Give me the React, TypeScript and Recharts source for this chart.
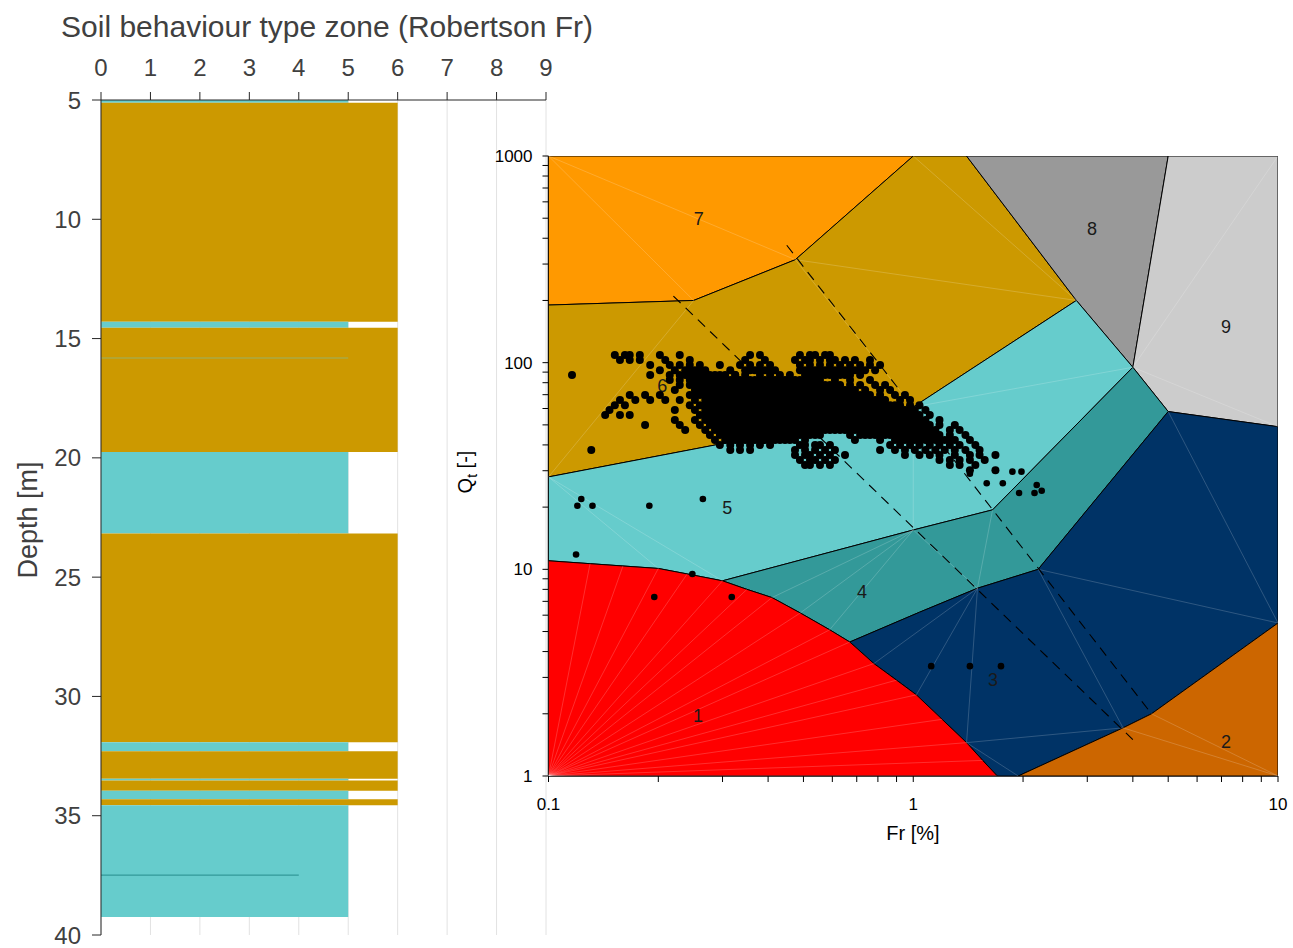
import React from 'react';
import {
  ScatterChart,
  Scatter,
  XAxis,
  YAxis,
  CartesianGrid,
  ReferenceArea,
} from 'recharts';

const FONT = '"Liberation Sans", Arial, Helvetica, sans-serif';

const zoneColors: Record<number, string> = {
  1: '#FF0000',
  2: '#CC6600',
  3: '#003366',
  4: '#339999',
  5: '#66CCCC',
  6: '#CC9900',
  7: '#FF9900',
  8: '#999999',
  9: '#CCCCCC',
};

// CPT log: [top depth, bottom depth, SBT zone]; thin seams are listed after the layer they cut
const layers: [number, number, number][] = [
  [5.0, 5.12, 5],
  [5.12, 14.3, 6],
  [14.3, 14.55, 5],
  [14.55, 19.75, 6],
  [19.75, 23.17, 5],
  [23.17, 31.92, 6],
  [31.92, 32.3, 5],
  [32.3, 33.45, 6],
  [33.45, 33.52, 5],
  [33.52, 33.95, 6],
  [33.95, 34.31, 5],
  [34.31, 34.56, 6],
  [34.56, 39.25, 5],
  [15.8, 15.82, 5],
  [37.46, 37.52, 4],
];

const zoneTicks = [0, 1, 2, 3, 4, 5, 6, 7, 8, 9];
const depthTicks = [5, 10, 15, 20, 25, 30, 35, 40];

// Robertson (1990) Fr chart zone outlines as [Fr %, Qt]
const zone1: [number, number][] = [
  [0.1, 1], [0.1, 11], [0.13, 10.65], [0.16, 10.38], [0.2, 10.1], [0.24, 9.5], [0.3, 8.8],
  [0.35, 8.0], [0.41, 7.3], [0.49, 6.15], [0.59, 5.1], [0.67, 4.45], [0.78, 3.5], [0.9, 2.91],
  [1.02, 2.47], [1.2, 1.88], [1.4, 1.45], [1.55, 1.19], [1.7, 1],
];
const zone2: [number, number][] = [[1.94, 1], [3.76, 1.71], [4.5, 2], [10, 5.5], [10, 1]];
const zone3: [number, number][] = [
  [0.67, 4.45], [1.04, 6.2], [1.5, 8.1], [2.2, 10], [5, 58], [10, 49], [10, 5.5], [4.5, 2],
  [3.76, 1.71], [1.94, 1], [1.7, 1], [1.55, 1.19], [1.4, 1.45], [1.2, 1.88], [1.02, 2.47],
  [0.9, 2.91], [0.78, 3.5],
];
const zone4: [number, number][] = [
  [0.3, 8.8], [1.0, 15.5], [1.65, 19.4], [4, 95], [5, 58], [2.2, 10], [1.5, 8.1], [1.04, 6.2],
  [0.67, 4.45], [0.59, 5.1], [0.49, 6.15], [0.41, 7.3], [0.35, 8.0],
];
const zone5: [number, number][] = [
  [0.1, 28], [1.0, 61], [2.8, 200], [4, 95], [1.65, 19.4], [1.0, 15.5], [0.3, 8.8], [0.24, 9.5],
  [0.2, 10.1], [0.16, 10.38], [0.13, 10.65], [0.1, 11],
];
const zone6: [number, number][] = [
  [0.1, 190], [0.25, 200], [0.475, 315], [1, 1000], [1.4, 1000], [2.8, 200], [1.0, 61], [0.1, 28],
];
const zone7: [number, number][] = [[0.1, 1000], [1, 1000], [0.475, 315], [0.25, 200], [0.1, 190]];
const zone8: [number, number][] = [[1.4, 1000], [5, 1000], [4, 95], [2.8, 200]];
const zone9: [number, number][] = [[5, 1000], [10, 1000], [10, 49], [5, 58], [4, 95]];

const zoneOutlines = [
  { zone: 7, points: zone7 },
  { zone: 6, points: zone6 },
  { zone: 8, points: zone8 },
  { zone: 9, points: zone9 },
  { zone: 5, points: zone5 },
  { zone: 4, points: zone4 },
  { zone: 3, points: zone3 },
  { zone: 2, points: zone2 },
  { zone: 1, points: zone1 },
];

const labelZones = ['7', '8', '9', '6', '5', '4', '3', '1', '2'];
const labelFr = [0.258, 3.09, 7.2, 0.205, 0.309, 0.724, 1.655, 0.257, 7.2];
const labelQt = [496, 443, 149, 77, 19.8, 7.77, 2.91, 1.95, 1.46];

// triangulation edges of the zone patches, [Fr1, Qt1, Fr2, Qt2]
const meshEdges: [number, number, number, number][] = [
  [0.1, 1000, 0.25, 200],
  [0.1, 1000, 0.475, 315],
  [0.25, 200, 0.1, 28],
  [0.475, 315, 1.0, 61],
  [0.475, 315, 2.8, 200],
  [1, 1000, 2.8, 200],
  [10, 1000, 4, 95],
  [4, 95, 10, 49],
  [4, 95, 1.0, 61],
  [0.1, 28, 0.2, 10.1],
  [0.1, 28, 0.3, 8.8],
  [1.0, 61, 1.0, 15.5],
  [1.0, 15.5, 1.5, 8.1],
  [1.5, 8.1, 1.65, 19.4],
  [1.0, 15.5, 0.41, 7.3],
  [1.0, 15.5, 0.49, 6.15],
  [1.0, 15.5, 0.59, 5.1],
  [2.2, 10, 3.76, 1.71],
  [2.2, 10, 10, 5.5],
  [5, 58, 10, 5.5],
  [1.4, 1.45, 3.76, 1.71],
  [1.5, 8.1, 1.4, 1.45],
  [1.5, 8.1, 0.78, 3.5],
  [1.5, 8.1, 1.02, 2.47],
  [1.4, 1.45, 1.94, 1],
  [3.76, 1.71, 10, 1],
  [4.5, 2, 10, 1],
  ...zone1.slice(1).map(([fr, qt]) => [0.1, 1, fr, qt] as [number, number, number, number]),
];

const dashedFrom: [number, number][] = [[0.22, 210], [0.45, 370]];
const dashedTo: [number, number][] = [[4.0, 1.5], [4.5, 2.0]];

// CPT readings grouped by Qt level
const qtLevels = [109, 103, 97.4, 92, 87.1, 82.4, 78, 73.8, 69.7, 66, 62.3, 59, 55.8, 52.8, 49.9, 47.2, 44.7, 42.2, 40, 37.8, 35.7, 33.8, 32, 30.2];
const frByLevel: number[][] = [
  [0.152, 0.162, 0.167, 0.178, 0.202, 0.229, 0.357, 0.38, 0.489, 0.521, 0.538, 0.573, 0.591],
  [0.157, 0.167, 0.178, 0.209, 0.244, 0.346, 0.392, 0.474, 0.505, 0.521, 0.555, 0.591, 0.61, 0.65, 0.692, 0.761],
  [0.19, 0.215, 0.229, 0.244, 0.26, 0.295, 0.335, 0.357, 0.38, 0.405, 0.489, 0.521, 0.555, 0.591, 0.63, 0.671, 0.715, 0.761, 0.811],
  [0.202, 0.222, 0.237, 0.252, 0.269, 0.315, 0.346, 0.368, 0.392, 0.418, 0.505, 0.538, 0.573, 0.61, 0.65, 0.692, 0.738, 0.786],
  [0.116, 0.19, 0.215, 0.229, 0.244, 0.26, 0.277, 0.295, 0.325, 0.346, 0.38, 0.405, 0.431, 0.459, 0.521, 0.555, 0.591, 0.63, 0.671, 0.715],
  [0.215, 0.229, 0.244, 0.26, 0.277, 0.295, 0.315, 0.335, 0.357, 0.38, 0.405, 0.431, 0.459, 0.489, 0.521, 0.555, 0.61, 0.671, 0.761],
  [0.229, 0.244, 0.26, 0.277, 0.295, 0.315, 0.335, 0.357, 0.38, 0.405, 0.431, 0.459, 0.489, 0.521, 0.555, 0.591, 0.63, 0.671, 0.715, 0.786, 0.837],
  [0.222, 0.252, 0.269, 0.286, 0.305, 0.325, 0.346, 0.368, 0.392, 0.418, 0.445, 0.474, 0.505, 0.538, 0.573, 0.61, 0.65, 0.692, 0.738, 0.811, 0.864],
  [0.167, 0.184, 0.202, 0.244, 0.26, 0.277, 0.295, 0.315, 0.335, 0.357, 0.38, 0.405, 0.431, 0.459, 0.489, 0.521, 0.555, 0.591, 0.63, 0.671, 0.715, 0.761, 0.811, 0.891, 0.949],
  [0.157, 0.173, 0.19, 0.209, 0.229, 0.252, 0.269, 0.286, 0.305, 0.325, 0.346, 0.368, 0.392, 0.418, 0.445, 0.474, 0.505, 0.538, 0.573, 0.61, 0.65, 0.692, 0.738, 0.786, 0.837, 0.92, 0.98],
  [0.152, 0.162, 0.244, 0.26, 0.277, 0.295, 0.315, 0.335, 0.357, 0.38, 0.405, 0.431, 0.459, 0.489, 0.521, 0.555, 0.591, 0.63, 0.671, 0.715, 0.761, 0.811, 0.864, 0.92, 0.98, 1.04],
  [0.147, 0.222, 0.252, 0.269, 0.286, 0.305, 0.325, 0.346, 0.368, 0.392, 0.418, 0.445, 0.474, 0.505, 0.538, 0.573, 0.61, 0.65, 0.692, 0.738, 0.786, 0.837, 0.891, 0.949, 1.01, 1.08],
  [0.143, 0.157, 0.167, 0.26, 0.277, 0.295, 0.315, 0.335, 0.357, 0.38, 0.405, 0.431, 0.459, 0.489, 0.521, 0.555, 0.591, 0.63, 0.671, 0.715, 0.761, 0.811, 0.864, 0.92, 0.98, 1.04, 1.11],
  [0.222, 0.252, 0.269, 0.286, 0.305, 0.325, 0.346, 0.368, 0.392, 0.418, 0.445, 0.474, 0.505, 0.538, 0.573, 0.61, 0.65, 0.692, 0.738, 0.786, 0.837, 0.891, 0.949, 1.01, 1.08, 1.18],
  [0.184, 0.229, 0.26, 0.277, 0.295, 0.315, 0.335, 0.357, 0.38, 0.405, 0.431, 0.459, 0.489, 0.521, 0.555, 0.591, 0.63, 0.671, 0.715, 0.761, 0.811, 0.864, 0.92, 0.98, 1.04, 1.11, 1.18, 1.3],
  [0.237, 0.269, 0.286, 0.305, 0.325, 0.346, 0.368, 0.392, 0.418, 0.445, 0.474, 0.505, 0.538, 0.573, 0.61, 0.65, 0.692, 0.738, 0.786, 0.837, 0.891, 0.949, 1.01, 1.08, 1.15, 1.26, 1.34],
  [0.277, 0.295, 0.315, 0.335, 0.357, 0.38, 0.405, 0.431, 0.459, 0.489, 0.521, 0.555, 0.671, 0.715, 0.761, 0.811, 0.864, 0.92, 0.98, 1.04, 1.11, 1.18, 1.26, 1.39],
  [0.286, 0.305, 0.325, 0.346, 0.368, 0.392, 0.418, 0.445, 0.474, 0.505, 0.692, 0.811, 0.891, 0.949, 1.01, 1.08, 1.15, 1.22, 1.3, 1.43],
  [0.295, 0.315, 0.335, 0.357, 0.38, 0.405, 0.489, 0.505, 0.538, 0.555, 0.591, 0.864, 0.92, 0.98, 1.04, 1.11, 1.18, 1.26, 1.34, 1.48],
  [0.131, 0.315, 0.335, 0.357, 0.474, 0.505, 0.538, 0.573, 0.61, 0.811, 0.891, 0.949, 1.01, 1.08, 1.15, 1.22, 1.3, 1.39, 1.52],
  [0.474, 0.505, 0.521, 0.555, 0.591, 0.65, 0.949, 1.04, 1.11, 1.18, 1.3, 1.43, 1.52, 1.68],
  [0.489, 0.521, 0.538, 0.573, 0.61, 1.18, 1.26, 1.34, 1.43, 1.57],
  [0.505, 0.521, 0.555, 0.591, 1.26, 1.34, 1.48],
  [1.43, 1.68],
];
// extra readings packed into the dense core of the cloud
const coreQt = [92, 87.1, 82.4, 78, 73.8, 69.7, 66, 62.3, 59, 55.8, 52.8, 49.9, 47.2, 44.7, 42.2];
const coreFr: number[][] = [
  [0.244, 0.26, 0.357, 0.38, 0.405, 0.489, 0.521, 0.555, 0.591, 0.63, 0.671, 0.715],
  [0.237, 0.252, 0.269, 0.286, 0.305, 0.325, 0.505, 0.538, 0.573, 0.61, 0.65],
  [0.252, 0.269, 0.286, 0.305, 0.325, 0.346, 0.368, 0.392, 0.418, 0.445, 0.474, 0.505, 0.538],
  [0.252, 0.269, 0.286, 0.305, 0.325, 0.346, 0.368, 0.392, 0.418, 0.445, 0.474, 0.505, 0.538, 0.573, 0.61],
  [0.26, 0.277, 0.295, 0.315, 0.335, 0.357, 0.38, 0.405, 0.431, 0.459, 0.489, 0.521, 0.555, 0.591, 0.63, 0.671],
  [0.252, 0.269, 0.286, 0.305, 0.325, 0.346, 0.368, 0.392, 0.418, 0.445, 0.474, 0.505, 0.538, 0.573, 0.61, 0.65, 0.692, 0.738],
  [0.277, 0.295, 0.315, 0.335, 0.357, 0.38, 0.405, 0.431, 0.459, 0.489, 0.521, 0.555, 0.591, 0.63, 0.671, 0.715, 0.761, 0.811],
  [0.269, 0.286, 0.305, 0.325, 0.346, 0.368, 0.392, 0.418, 0.445, 0.474, 0.505, 0.538, 0.573, 0.61, 0.65, 0.692, 0.738, 0.786, 0.837, 0.891],
  [0.277, 0.295, 0.315, 0.335, 0.357, 0.38, 0.405, 0.431, 0.459, 0.489, 0.521, 0.555, 0.591, 0.63, 0.671, 0.715, 0.761, 0.811, 0.864, 0.92, 0.98],
  [0.269, 0.286, 0.305, 0.325, 0.346, 0.368, 0.392, 0.418, 0.445, 0.474, 0.505, 0.538, 0.573, 0.61, 0.65, 0.692, 0.738, 0.786, 0.837, 0.891, 0.949, 1.01],
  [0.277, 0.295, 0.315, 0.335, 0.357, 0.38, 0.405, 0.431, 0.459, 0.489, 0.521, 0.555, 0.591, 0.63, 0.671, 0.715, 0.761, 0.811, 0.864, 0.92, 0.98, 1.04],
  [0.286, 0.305, 0.325, 0.346, 0.368, 0.392, 0.418, 0.445, 0.474, 0.505, 0.538, 0.573, 0.61, 0.65, 0.692, 0.738, 0.786, 0.837, 0.891, 0.949, 1.01, 1.08],
  [0.295, 0.315, 0.335, 0.357, 0.38, 0.405, 0.431, 0.459, 0.489, 0.521, 0.555, 0.591, 0.63, 0.671, 0.715, 0.761, 0.811, 0.864, 0.92, 0.98, 1.04, 1.11],
  [0.305, 0.325, 0.346, 0.368, 0.392, 0.418, 0.445, 0.474, 0.505, 0.538, 0.738, 0.786, 0.837, 0.891, 0.949, 1.01, 1.08, 1.15],
  [0.315, 0.335, 0.357, 0.38, 0.405, 0.431, 0.459, 0.92, 0.98, 1.04, 1.11, 1.18, 1.26],
];
// isolated readings away from the main cloud
const sparseFr = [0.12, 0.123, 0.132, 0.189, 0.265, 0.119, 0.248, 0.195, 0.318, 1.12, 1.43, 1.74, 1.43, 1.59, 1.76, 1.87, 1.98, 1.95, 2.15, 2.18, 2.25];
const sparseQt = [20.3, 21.9, 20.3, 20.3, 21.9, 11.8, 9.5, 7.35, 7.35, 3.4, 3.4, 3.4, 29, 26.1, 26.1, 29.7, 29.7, 23.4, 23.4, 25.6, 24.0];

const frTicks = [0.1, 0.2, 0.3, 0.4, 0.5, 0.6, 0.7, 0.8, 0.9, 1, 2, 3, 4, 5, 6, 7, 8, 9, 10];
const qtTicks = [1, 2, 3, 4, 5, 6, 7, 8, 9, 10, 20, 30, 40, 50, 60, 70, 80, 90, 100, 200, 300, 400, 500, 600, 700, 800, 900, 1000];
const frMajor = [0.1, 1, 10];
const qtMajor = [1, 10, 100, 1000];

const cloudPoints = [
  ...qtLevels.flatMap((qt, i) => frByLevel[i].map((fr) => ({ fr, qt }))),
  ...coreQt.flatMap((qt, i) => coreFr[i].map((fr) => ({ fr, qt }))),
];
const sparsePoints = sparseFr.map((fr, i) => ({ fr, qt: sparseQt[i] }));

const toRows = (pts: [number, number][]) => pts.map(([fr, qt]) => ({ fr, qt }));
const zoneLabelRows = labelZones.map((z, i) => ({ fr: labelFr[i], qt: labelQt[i], z }));
const layerTops = layers.map(([top, , zone]) => ({ zone, depth: top }));

const hidden = () => <g />;

const ProfileChart = () => (
  <ScatterChart width={560} height={948} margin={{ top: 0, right: 14, bottom: 13, left: 0 }}>
    <CartesianGrid horizontal={false} stroke="#e2e2e2" strokeWidth={1} />
    <XAxis
      dataKey="zone"
      type="number"
      orientation="top"
      domain={[0, 9]}
      ticks={zoneTicks}
      interval={0}
      height={100}
      tickSize={8}
      tickMargin={16}
      axisLine={{ stroke: '#262626' }}
      tickLine={{ stroke: '#262626' }}
      tick={{ fill: '#404040', fontSize: 24, fontFamily: FONT }}
    />
    <YAxis
      dataKey="depth"
      type="number"
      reversed
      domain={[5, 40]}
      ticks={depthTicks}
      interval={0}
      width={101}
      tickSize={9}
      tickMargin={11}
      axisLine={{ stroke: '#262626' }}
      tickLine={{ stroke: '#262626' }}
      tick={{ fill: '#404040', fontSize: 24, fontFamily: FONT }}
    />
    <Scatter data={layerTops} shape={hidden} isAnimationActive={false} />
    {layers.map(([top, bottom, zone], i) => (
      <ReferenceArea
        key={i}
        x1={0}
        x2={zone}
        y1={top}
        y2={bottom}
        fill={zoneColors[zone]}
        fillOpacity={1}
        stroke="none"
        ifOverflow="visible"
      />
    ))}
  </ScatterChart>
);

const ChartSBT = () => (
  <ScatterChart width={853} height={760} margin={{ top: 36, right: 15, bottom: 44, left: 8.5 }}>
    <XAxis
      dataKey="fr"
      type="number"
      scale="log"
      domain={[0.1, 10]}
      allowDataOverflow
      ticks={frTicks}
      interval={0}
      height={60}
      tickSize={6}
      tickMargin={16}
      tickFormatter={(v: number) => (frMajor.includes(v) ? String(v) : '')}
      axisLine={{ stroke: '#000', strokeWidth: 1.5 }}
      tickLine={{ stroke: '#000' }}
      tick={{ fill: '#000', fontSize: 17, fontFamily: FONT }}
    />
    <YAxis
      dataKey="qt"
      type="number"
      scale="log"
      domain={[1, 1000]}
      allowDataOverflow
      ticks={qtTicks}
      interval={0}
      width={100}
      tickSize={6}
      tickMargin={10}
      tickFormatter={(v: number) => (qtMajor.includes(v) ? String(v) : '')}
      axisLine={{ stroke: '#000', strokeWidth: 1.5 }}
      tickLine={{ stroke: '#000' }}
      tick={{ fill: '#000', fontSize: 17, fontFamily: FONT }}
    />
    {zoneOutlines.map(({ zone, points }) => (
      <Scatter
        key={zone}
        data={toRows([...points, points[0]])}
        fill={zoneColors[zone]}
        shape={hidden}
        line={{ fill: zoneColors[zone], stroke: '#000', strokeWidth: 1 }}
        isAnimationActive={false}
      />
    ))}
    {meshEdges.map(([f1, q1, f2, q2], i) => (
      <Scatter
        key={`m${i}`}
        data={[{ fr: f1, qt: q1 }, { fr: f2, qt: q2 }]}
        shape={hidden}
        line={{ stroke: '#ffffff', strokeOpacity: 0.3, strokeWidth: 0.6 }}
        isAnimationActive={false}
      />
    ))}
    <Scatter
      data={zoneLabelRows}
      isAnimationActive={false}
      shape={(p: any) => (
        <text
          x={p.cx}
          y={p.cy}
          textAnchor="middle"
          dominantBaseline="central"
          fontSize={18}
          fontFamily={FONT}
          fill="#1a1a1a"
        >
          {p.payload.z}
        </text>
      )}
    />
    {dashedFrom.map(([f1, q1], i) => (
      <Scatter
        key={`d${i}`}
        data={[{ fr: f1, qt: q1 }, { fr: dashedTo[i][0], qt: dashedTo[i][1] }]}
        shape={hidden}
        line={{ stroke: '#000', strokeWidth: 1.1, strokeDasharray: '10 7' }}
        isAnimationActive={false}
      />
    ))}
    <Scatter
      data={cloudPoints}
      isAnimationActive={false}
      shape={(p: any) => <circle cx={p.cx} cy={p.cy} r={4} fill="#000" />}
    />
    <Scatter
      data={sparsePoints}
      isAnimationActive={false}
      shape={(p: any) => <circle cx={p.cx} cy={p.cy} r={3.3} fill="#000" />}
    />
  </ScatterChart>
);

const textBase: React.CSSProperties = {
  position: 'absolute',
  whiteSpace: 'nowrap',
  lineHeight: 1,
  fontFamily: FONT,
};

export default function App() {
  return (
    <div style={{ position: 'fixed', left: 0, top: 0, width: 1293, height: 948, background: '#fff', overflow: 'hidden' }}>
      <div style={{ position: 'absolute', left: 0, top: 0 }}>
        <ProfileChart />
      </div>
      <div style={{ position: 'absolute', left: 440, top: 120 }}>
        <ChartSBT />
      </div>
      <div style={{ ...textBase, left: 327, top: 27, fontSize: 30, color: '#404040', transform: 'translate(-50%, -50%)' }}>
        Soil behaviour type zone (Robertson Fr)
      </div>
      <div style={{ ...textBase, left: 28, top: 520, fontSize: 27, color: '#404040', transform: 'translate(-50%, -50%) rotate(-90deg)' }}>
        Depth [m]
      </div>
      <div style={{ ...textBase, left: 913, top: 833, fontSize: 20, color: '#000', transform: 'translate(-50%, -50%)' }}>
        Fr [%]
      </div>
      <div style={{ ...textBase, left: 467, top: 472, fontSize: 20, color: '#000', transform: 'translate(-50%, -50%) rotate(-90deg)' }}>
        Q<span style={{ fontSize: 14, verticalAlign: 'sub' }}>t</span> [-]
      </div>
    </div>
  );
}
